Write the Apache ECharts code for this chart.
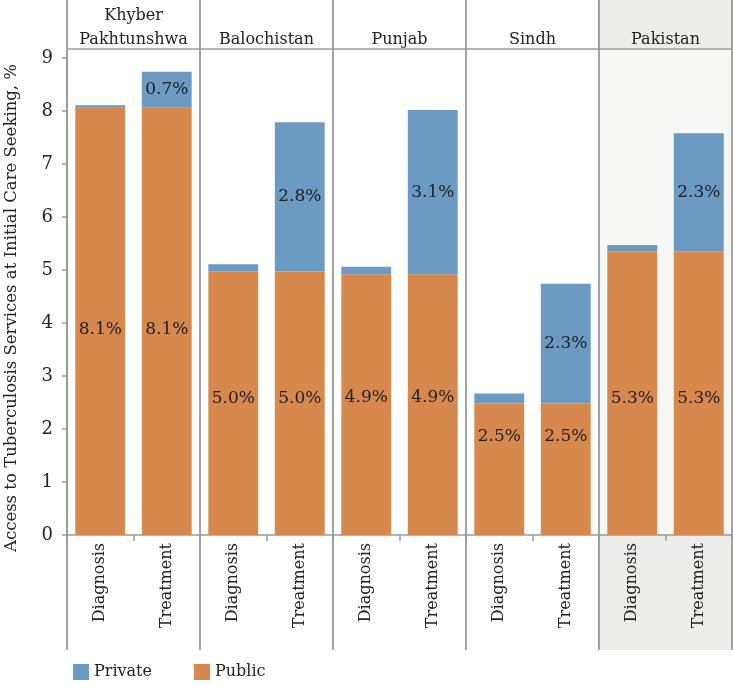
<!DOCTYPE html>
<html>
<head>
<meta charset="utf-8">
<script src="https://cdn.jsdelivr.net/npm/echarts@6/dist/echarts.min.js"></script>
<style>html,body{margin:0;padding:0;background:#fff}#c{width:733px;height:685px}</style>
</head>
<body>
<div id="c"></div>
<script>
// ---- data ----
var regions = ['Khyber\nPakhtunshwa', 'Balochistan', 'Punjab', 'Sindh', 'Pakistan'];
var stages = ['Diagnosis', 'Treatment'];
var publicDiag = [8.06, 4.97, 4.92, 2.48, 5.35];
var publicTreat = [8.06, 4.97, 4.92, 2.48, 5.35];
var privateDiag = [0.05, 0.14, 0.14, 0.19, 0.12];
var privateTreat = [0.68, 2.82, 3.10, 2.26, 2.23];
var publicLabels = ['8.1%', '5.0%', '4.9%', '2.5%', '5.3%'];
var privateTreatLabels = ['0.7%', '2.8%', '3.1%', '2.3%', '2.3%'];
// value (y-units) at which the public-share label sits in the reference
var publicLabelAt = [3.87, 2.58, 2.6, 1.85, 2.57];
var yTicks = [0, 1, 2, 3, 4, 5, 6, 7, 8, 9];
var yTitle = 'Access to Tuberculosis Services at Initial Care Seeking, %';

// ---- layout ----
var L = 67, PW = 133, TOP = 49, H = 486, BOTTOM_LINE = 650;
var YMAX = 9.17;
var pxPer = H / YMAX;
var FONT = "'DejaVu Serif'";
var TXT = '#222';
var ORANGE = '#D7884D', BLUE = '#6B9AC3';
var LINE = '#9a9a9a';

var grids = [], xAxes = [], yAxes = [], series = [], graphics = [];

// Pakistan panel background
graphics.push({type:'rect', shape:{x:L+PW*4, y:0, width:PW, height:TOP}, style:{fill:'#ededeb'}, z:0});
graphics.push({type:'rect', shape:{x:L+PW*4, y:TOP, width:PW, height:H}, style:{fill:'#f7f7f5'}, z:0});
graphics.push({type:'rect', shape:{x:L+PW*4, y:TOP+H, width:PW, height:BOTTOM_LINE-TOP-H}, style:{fill:'#ededeb'}, z:0});

for (var i = 0; i < regions.length; i++) {
  grids.push({left: L + PW*i, top: TOP, width: PW, height: H});
  xAxes.push({
    type:'category', gridIndex:i, data: stages,
    axisLine:{show:true, lineStyle:{color:LINE, width:1.5}},
    axisTick:{show:true, length:6, lineStyle:{color:LINE, width:1.5}},
    axisLabel:{rotate:90, margin:8, color:TXT, fontFamily:FONT, fontSize:16}
  });
  yAxes.push({
    type:'value', gridIndex:i, min:0, max:YMAX, interval:1,
    axisLine:{show: i === 0, lineStyle:{color:LINE, width:1.5}},
    axisTick:{show: i === 0, length:5, lineStyle:{color:LINE, width:1.5}},
    axisLabel:{show: i === 0, showMaxLabel:false, margin:14, color:TXT, fontFamily:FONT, fontSize:18,
      formatter:function(v){ return yTicks.indexOf(v) >= 0 ? String(v) : ''; }},
    splitLine:{show:false}
  });
  (function(i){
    var pubOffsetY = (publicDiag[i] - publicLabelAt[i]) * pxPer;
    series.push({
      name:'Public', type:'bar', stack:'s'+i, xAxisIndex:i, yAxisIndex:i,
      barWidth:'75%', data:[publicDiag[i], publicTreat[i]],
      itemStyle:{color:ORANGE},
      label:{show:true, position:['50%', pubOffsetY], align:'center', verticalAlign:'middle',
        formatter:function(){ return publicLabels[i]; },
        color:TXT, fontFamily:FONT, fontSize:17}
    });
    series.push({
      name:'Private', type:'bar', stack:'s'+i, xAxisIndex:i, yAxisIndex:i,
      barWidth:'75%',
      data:[{value:privateDiag[i], label:{show:false}},
            {value:privateTreat[i], label:{show:true}}],
      itemStyle:{color:BLUE},
      label:{show:true, position:'inside',
        formatter:function(){ return privateTreatLabels[i]; },
        color:TXT, fontFamily:FONT, fontSize:17}
    });
  })(i);

  // header text
  graphics.push({type:'text', x: L + PW*i + PW/2, y: TOP + 3,
    style:{text: regions[i], fill:TXT, fontFamily:FONT, fontSize:16, textAlign:'center', textVerticalAlign:'bottom', lineHeight:24}, z:5});
}

// y-axis title
graphics.push({type:'text', x: 12, y: 308, rotation: Math.PI/2,
  style:{text: yTitle, fill:TXT, fontFamily:FONT, fontSize:16.5, textAlign:'center', textVerticalAlign:'middle'}, z:5});

// panel separators
for (var k = 0; k <= regions.length; k++) {
  graphics.push({type:'line', shape:{x1:L+PW*k, y1:0, x2:L+PW*k, y2:BOTTOM_LINE},
    style:{stroke:LINE, lineWidth:1.8}, z:4});
}
// header separator
graphics.push({type:'line', shape:{x1:L, y1:TOP, x2:L+PW*5, y2:TOP}, style:{stroke:LINE, lineWidth:1.5}, z:4});

var chart = echarts.init(document.getElementById('c'), null, {renderer:'canvas'});
chart.setOption({
  animation:false,
  backgroundColor:'#fff',
  textStyle:{fontFamily:FONT},
  grid: grids, xAxis: xAxes, yAxis: yAxes, series: series,
  legend:{
    data:['Private', 'Public'], left:73, top:664, padding:0, itemWidth:16, itemHeight:16, itemGap:42,
    icon:'rect', textStyle:{color:TXT, fontFamily:FONT, fontSize:16}
  },
  graphic: graphics
});
</script>
</body>
</html>
